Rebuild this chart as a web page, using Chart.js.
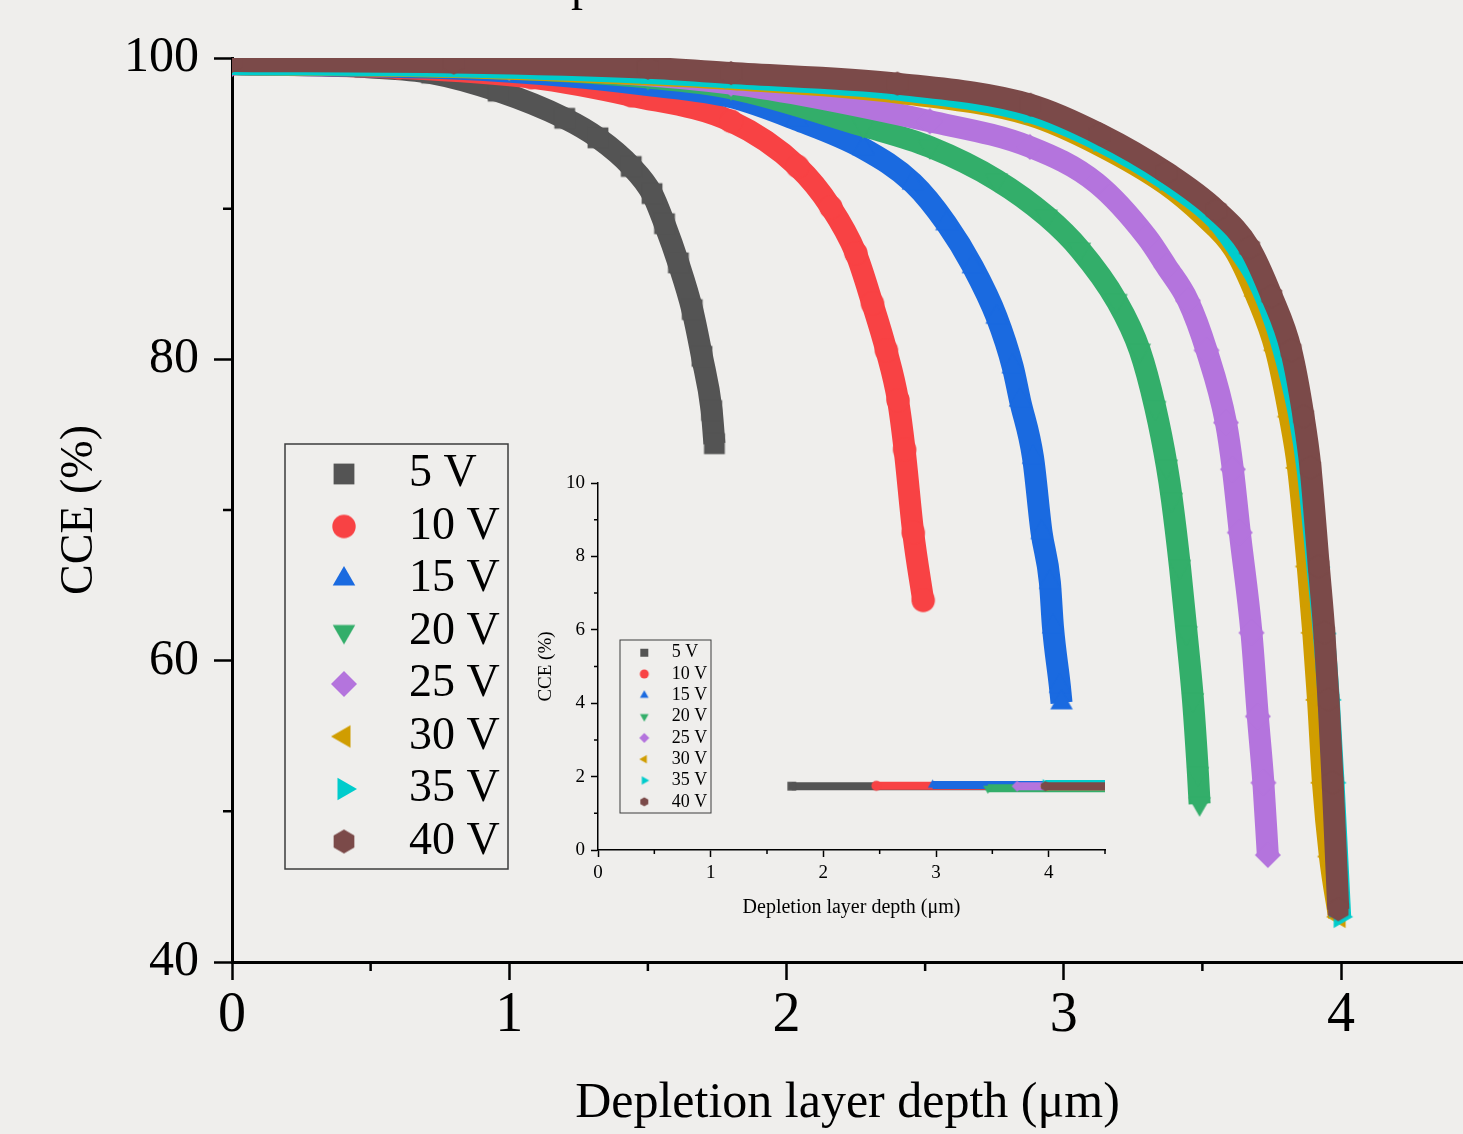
<!DOCTYPE html>
<html>
<head>
<meta charset="utf-8">
<title>CCE vs depletion layer depth</title>
<script src="https://cdn.jsdelivr.net/npm/chart.js@4.4.1/dist/chart.umd.min.js"></script>
<style>
  html, body { margin: 0; padding: 0; background: #efeeec; }
  #wrap { position: relative; width: 1463px; height: 1134px; overflow: hidden; }
  #mainChart { position: absolute; left: 0; top: 0; }
  #insetChart { position: absolute; left: 500px; top: 460px; }
</style>
</head>
<body>
<div id="wrap">
  <canvas id="mainChart" width="1463" height="1134"></canvas>
  <canvas id="insetChart" width="640" height="480"></canvas>
</div>
<script>
const seriesLabels = ['5 V', '10 V', '15 V', '20 V', '25 V', '30 V', '35 V', '40 V'];
const seriesColors = ['#545454', '#f84244', '#1a6ae0', '#33ae6a', '#b474dd', '#d09d00', '#00cccc', '#7b4a49'];
const seriesShapes = ['square', 'circle', 'triangleUp', 'triangleDown', 'diamond', 'triangleLeft', 'triangleRight', 'hexagon'];

// main plot, [depth (um), CCE (%)]
const cce5V = [[0,99.6],[0.3,99.55],[0.48,99.4],[0.72,99.0],[0.96,97.8],[1.2,96.0],[1.32,94.7],[1.44,92.8],[1.515,91.0],[1.56,89.0],[1.61,86.4],[1.66,83.3],[1.695,80.2],[1.73,76.6],[1.74,74.4]];
const cce10V = [[0,99.6],[0.6,99.35],[1.08,98.7],[1.44,97.5],[1.8,95.8],[2.04,92.8],[2.16,90.1],[2.25,87.05],[2.31,83.7],[2.36,80.6],[2.402,77.3],[2.426,74.0],[2.457,68.5],[2.493,64.0]];
const cce15V = [[0,99.6],[0.8,99.3],[1.2,98.8],[1.5,98.2],[1.8,97.4],[2.036,95.9],[2.276,94.0],[2.456,91.7],[2.577,89.0],[2.672,86.15],[2.758,82.8],[2.816,79.5],[2.842,77.3],[2.889,73.5],[2.92,68.5],[2.95,65.2],[2.961,62.25],[2.986,58.3],[2.992,57.2]];
const cce20V = [[0,99.6],[1.0,99.3],[1.5,98.7],[1.8,98.0],[2.276,95.5],[2.517,94.1],[2.758,91.9],[2.938,89.5],[3.058,87.3],[3.19,83.9],[3.274,80.6],[3.33,76.8],[3.372,72.9],[3.39,70.7],[3.419,66.25],[3.443,61.85],[3.466,57.4],[3.484,52.5],[3.49,50.5]];
const cce25V = [[0,99.6],[1.0,99.35],[1.8,98.3],[2.517,95.8],[2.878,94.1],[3.118,91.7],[3.30,88.1],[3.371,86.15],[3.448,83.9],[3.515,80.6],[3.585,75.8],[3.61,72.7],[3.635,68.5],[3.677,61.85],[3.70,56.3],[3.72,51.9],[3.736,47.1]];
const cce30V = [[0,99.6],[0.8,99.4],[1.5,98.9],[1.8,98.6],[2.4,97.7],[2.88,96.2],[3.13,94.2],[3.37,91.6],[3.50,89.6],[3.615,87.3],[3.695,84.2],[3.765,80.6],[3.815,76.2],[3.845,72.8],[3.88,66.25],[3.9,61.85],[3.917,57.4],[3.935,51.9],[3.96,47.0],[3.993,43.0]];
const cce35V = [[0,99.6],[0.8,99.45],[1.5,99.0],[1.8,98.7],[2.4,97.9],[2.88,96.4],[3.13,94.5],[3.37,91.9],[3.55,89.3],[3.62,87.6],[3.7,85.3],[3.76,82.6],[3.805,79.8],[3.85,76.2],[3.88,72.6],[3.915,66.2],[3.938,61.8],[3.956,57.4],[3.973,51.9],[3.997,43.0]];
const cce40V = [[0,99.8],[0.8,99.7],[1.5,99.35],[1.8,99.0],[2.4,98.3],[2.88,96.9],[3.13,94.95],[3.37,92.4],[3.55,89.9],[3.67,87.4],[3.75,84.2],[3.82,80.6],[3.865,76.2],[3.89,72.8],[3.92,66.25],[3.94,61.85],[3.955,57.4],[3.97,51.9],[3.99,43.5]];
const mainSeries = [cce5V, cce10V, cce15V, cce20V, cce25V, cce30V, cce35V, cce40V];

// inset: flat bands, start depth and CCE level of each
const insetStart = [1.72, 2.47, 2.97, 3.46, 3.72, 3.97, 3.97, 3.97];
const insetLevel = [1.74, 1.75, 1.77, 1.68, 1.74, 1.74, 1.80, 1.74];
const insetEnd = 4.5;

const mainXMinor = [0.5, 1.5, 2.5, 3.5];
const mainYMinor = [50, 70, 90];
const insetXMinor = [0.5, 1.5, 2.5, 3.5, 4.5];
const insetYMinor = [1, 3, 5, 7, 9];

const serif = "'Liberation Serif', 'Times New Roman', serif";

function makeMarker(shape, size, color) {
  const c = document.createElement('canvas');
  c.width = c.height = Math.ceil(size) + 2;
  const g = c.getContext('2d');
  const m = c.width / 2, r = size / 2;
  g.fillStyle = color;
  g.beginPath();
  if (shape === 'square') {
    g.rect(m - r * 0.8, m - r * 0.8, r * 1.6, r * 1.6);
  } else if (shape === 'circle') {
    g.arc(m, m, r * 0.9, 0, Math.PI * 2);
  } else if (shape === 'diamond') {
    g.moveTo(m, m - r); g.lineTo(m + r, m); g.lineTo(m, m + r); g.lineTo(m - r, m);
  } else if (shape === 'hexagon') {
    for (let k = 0; k < 6; k++) {
      const a = Math.PI / 2 + k * Math.PI / 3;
      g.lineTo(m + r * 0.92 * Math.cos(a), m - r * 0.92 * Math.sin(a));
    }
  } else {
    const rot = {triangleUp: 0, triangleRight: 90, triangleDown: 180, triangleLeft: 270}[shape] * Math.PI / 180;
    for (let k = 0; k < 3; k++) {
      const a = rot + k * 2 * Math.PI / 3;
      g.lineTo(m + r * Math.sin(a), m - r * Math.cos(a));
    }
  }
  g.closePath();
  g.fill();
  return c;
}

const mainMarkers = seriesShapes.map((s, i) => makeMarker(s, 26, seriesColors[i]));
const legendMarkers = seriesShapes.map((s, i) => makeMarker(s, 26, seriesColors[i]));
const insetMarkers = seriesShapes.map((s, i) => makeMarker(s, 11, seriesColors[i]));
const insetLegendMarkers = seriesShapes.map((s, i) => makeMarker(s, 10, seriesColors[i]));

const minorTicks = {
  id: 'minorTicks',
  afterDraw(chart, args, o) {
    const {ctx, chartArea} = chart;
    const xs = chart.scales.x, ys = chart.scales.y;
    ctx.save();
    ctx.strokeStyle = '#000';
    ctx.lineWidth = o.width;
    ctx.beginPath();
    o.x.forEach(v => {
      const px = xs.getPixelForValue(v);
      ctx.moveTo(px, chartArea.bottom);
      ctx.lineTo(px, chartArea.bottom + o.length);
    });
    o.y.forEach(v => {
      const py = ys.getPixelForValue(v);
      ctx.moveTo(chartArea.left, py);
      ctx.lineTo(chartArea.left - o.length, py);
    });
    ctx.stroke();
    ctx.restore();
  }
};

const boxLegend = {
  id: 'boxLegend',
  afterDraw(chart, args, o) {
    const ctx = chart.ctx;
    ctx.save();
    ctx.strokeStyle = '#3c3c3c';
    ctx.lineWidth = o.lineWidth;
    ctx.strokeRect(o.left, o.top, o.width, o.height);
    ctx.font = o.fontSize + 'px ' + serif;
    ctx.fillStyle = '#000';
    ctx.textBaseline = 'middle';
    ctx.textAlign = 'left';
    chart.data.datasets.forEach((ds, i) => {
      const y = o.firstY + i * o.rowGap;
      const mk = ds.legendMarker;
      ctx.drawImage(mk, o.markerX - mk.width / 2, y - mk.height / 2);
      ctx.fillText(ds.label, o.textX, y);
    });
    ctx.restore();
  }
};

// bottom of a title line that sits above the picture
const cutTitle = {
  id: 'cutTitle',
  afterDraw(chart) {
    const ctx = chart.ctx;
    ctx.save();
    ctx.font = '48px ' + serif;
    ctx.fillStyle = '#000';
    ctx.textBaseline = 'alphabetic';
    ctx.fillText('p', 571, 0);
    ctx.restore();
  }
};

const mainChart = new Chart(document.getElementById('mainChart'), {
  type: 'scatter',
  data: {
    datasets: mainSeries.map((pts, i) => ({
      label: seriesLabels[i],
      data: pts.map(p => ({x: p[0], y: p[1]})),
      showLine: true,
      borderColor: seriesColors[i],
      backgroundColor: seriesColors[i],
      borderWidth: 22,
      borderJoinStyle: 'round',
      cubicInterpolationMode: 'monotone',
      pointStyle: mainMarkers[i],
      pointRadius: 10,
      order: seriesLabels.length - i,
      clip: 0,
      legendMarker: legendMarkers[i]
    }))
  },
  options: {
    responsive: false,
    animation: false,
    events: [],
    layout: { autoPadding: false, padding: { top: 58, right: 0, left: 0, bottom: 0 } },
    scales: {
      x: {
        type: 'linear', min: 0, max: 4.44,
        ticks: { stepSize: 1, includeBounds: false, color: '#000', font: { family: serif, size: 56 }, padding: 3, maxRotation: 0 },
        grid: { drawOnChartArea: false, drawTicks: true, tickLength: 18, tickWidth: 2.5, tickColor: '#000' },
        border: { display: true, color: '#000', width: 3 },
        title: { display: true, text: 'Depletion layer depth (μm)', color: '#000', font: { family: serif, size: 50 }, padding: { top: 0, bottom: 0 } },
        afterFit: s => { s.height = 172; }
      },
      y: {
        type: 'linear', min: 40, max: 100,
        ticks: { stepSize: 20, color: '#000', font: { family: serif, size: 50 }, padding: 15 },
        grid: { drawOnChartArea: false, drawTicks: true, tickLength: 18, tickWidth: 2.5, tickColor: '#000' },
        border: { display: true, color: '#000', width: 3 },
        title: { display: true, text: 'CCE (%)', color: '#000', font: { family: serif, size: 46 }, padding: { top: 52, bottom: 0 } },
        afterFit: s => { s.width = 232; }
      }
    },
    plugins: {
      legend: { display: false },
      tooltip: { enabled: false },
      minorTicks: { x: mainXMinor, y: mainYMinor, length: 9, width: 2.5 },
      boxLegend: { left: 285, top: 444, width: 223, height: 425, firstY: 474, rowGap: 52.5, markerX: 344, textX: 409, fontSize: 46, lineWidth: 1.5 }
    }
  },
  plugins: [minorTicks, boxLegend, cutTitle]
});

const insetChart = new Chart(document.getElementById('insetChart'), {
  type: 'scatter',
  data: {
    datasets: seriesLabels.map((label, i) => ({
      label: label,
      data: [{x: insetStart[i], y: insetLevel[i]}, {x: insetEnd, y: insetLevel[i]}],
      showLine: true,
      borderColor: seriesColors[i],
      backgroundColor: seriesColors[i],
      borderWidth: 8,
      pointStyle: insetMarkers[i],
      pointRadius: ctx => ctx.dataIndex === 0 ? 4 : 0,
      order: seriesLabels.length - i,
      clip: 0,
      legendMarker: insetLegendMarkers[i]
    }))
  },
  options: {
    responsive: false,
    animation: false,
    events: [],
    layout: { autoPadding: false, padding: { top: 23, right: 35, left: 0, bottom: 0 } },
    scales: {
      x: {
        type: 'linear', min: 0, max: 4.5,
        ticks: { stepSize: 1, includeBounds: false, color: '#000', font: { family: serif, size: 19 }, padding: 5, maxRotation: 0 },
        grid: { drawOnChartArea: false, drawTicks: true, tickLength: 7, tickWidth: 1.5, tickColor: '#000' },
        border: { display: true, color: '#000', width: 1.5 },
        title: { display: true, text: 'Depletion layer depth (μm)', color: '#000', font: { family: serif, size: 20 }, padding: { top: 0, bottom: 20 } },
        afterFit: s => { s.height = 90; }
      },
      y: {
        type: 'linear', min: 0, max: 10,
        ticks: { stepSize: 2, color: '#000', font: { family: serif, size: 19 }, padding: 6 },
        grid: { drawOnChartArea: false, drawTicks: true, tickLength: 7, tickWidth: 1.5, tickColor: '#000' },
        border: { display: true, color: '#000', width: 1.5 },
        title: { display: true, text: 'CCE (%)', color: '#000', font: { family: serif, size: 19 }, padding: { top: 35, bottom: 0 } },
        afterFit: s => { s.width = 98; }
      }
    },
    plugins: {
      legend: { display: false },
      tooltip: { enabled: false },
      minorTicks: { x: insetXMinor, y: insetYMinor, length: 4, width: 1.5 },
      boxLegend: { left: 120, top: 180, width: 91, height: 173, firstY: 192.7, rowGap: 21.3, markerX: 144.3, textX: 171.7, fontSize: 18, lineWidth: 1 }
    }
  },
  plugins: [minorTicks, boxLegend]
});
</script>
</body>
</html>
